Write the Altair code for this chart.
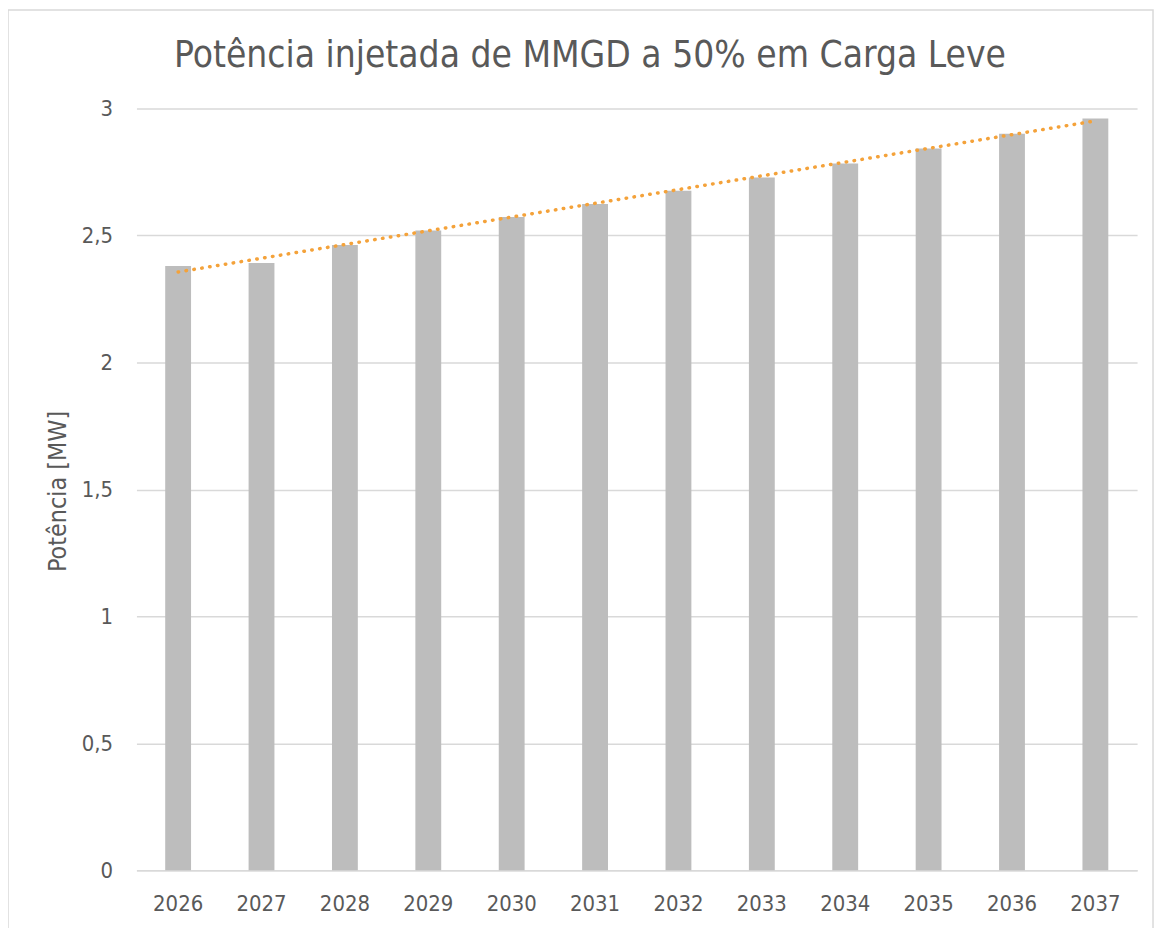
import altair as alt
import pandas as pd

years = [2026, 2027, 2028, 2029, 2030, 2031, 2032, 2033, 2034, 2035, 2036, 2037]
potencia = [2.380, 2.392, 2.463, 2.520, 2.573, 2.624, 2.676, 2.729, 2.784, 2.843, 2.901, 2.961]

title_text = "Potência injetada de MMGD a 50% em Carga Leve"
y_title = "Potência [MW]"

df = pd.DataFrame({"ano": years, "potencia": potencia})

FONT = "DejaVu Sans Condensed"
TXT = "#595959"
W, H = 1005, 765

xenc = alt.X("ano:O", title=None,
             scale=alt.Scale(paddingInner=0.69, paddingOuter=0.345),
             axis=alt.Axis(labelAngle=0, labelFontSize=22, labelFont=FONT, labelColor=TXT,
                           labelPadding=23, ticks=False, domainColor="#D9D9D9", domainWidth=1.5))
yenc = alt.Y("potencia:Q", title=y_title,
             scale=alt.Scale(domain=[0, 3]),
             axis=alt.Axis(values=[0, 0.5, 1, 1.5, 2, 2.5, 3], format=",.1~f",
                           labelExpr="replace(datum.label, '.', ',')",
                           labelFontSize=22, labelFont=FONT, labelColor=TXT, labelPadding=24,
                           ticks=False, domain=False, gridColor="#D9D9D9", gridWidth=1.5,
                           titleFont=FONT, titleFontSize=25, titleColor=TXT, titleFontWeight="normal",
                           titleAngle=270, titleX=-79, titleY=384, titleAlign="center",
                           titleBaseline="middle"))

base = alt.Chart(df)

bars = base.mark_bar(color="#BDBDBD").encode(x=xenc, y=yenc)

trend = base.transform_regression("ano", "potencia", method="linear").mark_line(
    color="#F4A23A", strokeWidth=3.5, strokeDash=[0.5, 7.5], strokeCap="round"
).encode(x=alt.X("ano:O"), y=alt.Y("potencia:Q"))

frame = base.mark_rect(fill=None, stroke="#D9D9D9", strokeWidth=1.5).encode(
    x=alt.value(-129), x2=alt.value(W + 16), y=alt.value(-99), y2=alt.value(H + 60)
).transform_filter(alt.datum.ano == 2026)

chart = alt.layer(frame, bars, trend).properties(
    width=W, height=H,
    autosize=alt.AutoSizeParams(type="none"),
    padding={"left": 129, "top": 99, "right": 18, "bottom": 60},
    title=alt.TitleParams(title_text, font=FONT, fontSize=37, fontWeight="normal",
                          color=TXT, anchor="middle", dx=-47, offset=-66),
).configure_view(stroke=None)

chart.save("out.html", embed_options={"renderer": "svg", "actions": False})
